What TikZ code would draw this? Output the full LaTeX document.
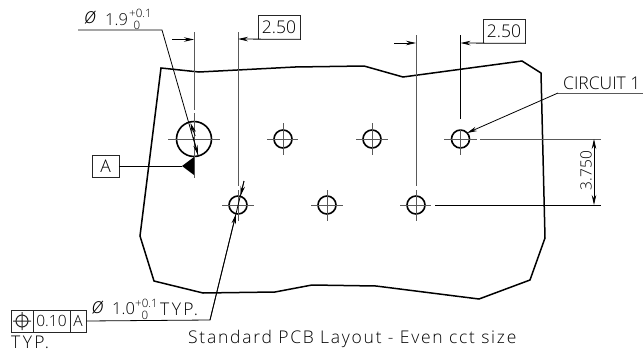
\documentclass[tikz,border=0pt]{standalone}
\usepackage{fontspec}
\setmainfont{Open Sans Light}
\newfontfamily\spaced[LetterSpace=10]{Open Sans Light}
\newfontfamily\spacedb[LetterSpace=14]{Open Sans Light}
\usetikzlibrary{arrows.meta}
\newcommand{\txtsize}[1]{\fontsize{#1}{#1}\selectfont}
\begin{document}
\begin{tikzpicture}[x=1pt,y=-1pt,
  thin line/.style={line width=0.8pt,draw=black},
  ext line/.style={line width=1pt,draw=black!65},
  board/.style={line width=1.5pt,draw=black,line join=miter},
  hole/.style={circle,draw=black,line width=1.6pt,inner sep=0pt,minimum size=18pt},
  bighole/.style={hole,minimum size=35pt},
  lab/.style={inner sep=0pt,text=black,font=\txtsize{17.5}},
  small/.style={inner sep=0pt,text=black,font=\txtsize{11.5}},
  boxed/.style={draw=black!85,line width=0.8pt,inner sep=0pt,font=\txtsize{17.5},text=black},
  tip/.style={-{Stealth[length=10pt,width=4.5pt]},thin line}]
\useasboundingbox (0,0) rectangle (643,354);
% board
\draw[board] (161,68)--(199,72)--(295,67)--(364,66)--(403,77)--(522,61)--(541,73)--(545,238)--(530,280)--(479,299)--(376,286)--(312,285)--(275,292)--(203,293)--(154,281)--(140,236)--cycle;
% holes
\node[bighole] (h0) at (194,139) {};
\node[hole] (h1) at (283,139) {};
\node[hole] (h2) at (372,139) {};
\node[hole] (h3) at (460.5,139) {};
\node[hole] (h4) at (238,205) {};
\node[hole] (h5) at (327,205) {};
\node[hole] (h6) at (416,205) {};
% centre lines
\draw[ext line] (168,139)--(220,139) (194,113)--(194,178);
\draw[ext line] (267,139)--(298,139) (283,123)--(283,155);
\draw[ext line] (356,139)--(388,139) (372,123)--(372,155);
\draw[ext line] (444,139)--(477,139) (460.5,129)--(460.5,155);
\draw[ext line] (222,205)--(254,205) (238,190)--(238,221);
\draw[ext line] (311,205)--(343,205) (327,190)--(327,221);
\draw[ext line] (400,205)--(431,205) (416,190)--(416,221);
% extension lines
\draw[ext line] (194,32)--(194,110);
\draw[ext line] (238,32)--(238,186);
\draw[ext line] (416,35)--(416,186);
\draw[thin line] (460.5,35)--(460.5,119);
\draw[ext line] (480,139)--(601,139);
\draw[thin line] (435,205)--(601,205);
% 2.50 left
\node[boxed,minimum width=42pt,minimum height=24pt] (d1) at (279,27) {2.50};
\draw[tip] (172,39.5)--(194,39.5);
\draw[tip] (d1.south east)--(238,39);
\draw[line width=1.2pt,draw=black!70] (d1.south west)--(d1.south east);
% 2.50 right
\node[boxed,minimum width=42pt,minimum height=24pt] (d2) at (504,31) {2.50};
\draw[tip] (394,43)--(416,43);
\draw[tip] (d2.south east)--(460.5,43);
\draw[line width=1.2pt,draw=black!70] (d2.south west)--(d2.south east);
% 3.750
\coordinate (dimA) at (594,172);
\draw[tip] (dimA)--(594,139);
\draw[tip] (dimA)--(594,205);
\node[lab,rotate=90,font=\txtsize{15.5}] (d3) at (586,170.5) {3.750};
% leader for big hole
\coordinate (la) at (78,30);
\coordinate (lb) at (162,30);
\draw[thin line] (la)--(lb)--(198,155);
\draw[tip] (195.2,136)--(190.5,123);
\draw[tip] (193.2,137)--(198,155);
\node[lab,font=\txtsize{22}] (p1) at (90.5,18) {\itshape ø};
\node[lab,anchor=west,font=\txtsize{16.5}] (t1) at (105,20) {1.9};
\node[small,anchor=west] (t1a) at (129,13) {+0.1};
\node[small] (t1b) at (137,25) {0};
% datum A
\node[boxed,minimum width=27pt,minimum height=22pt] (A) at (105.5,166) {A};
\coordinate (dapex) at (182,166);
\draw[thin line] (A.east)--(dapex);
\fill[black] (194,157)--(194,175)--(dapex)--cycle;
% CIRCUIT 1
\node[lab,anchor=west] (c1) at (563,83.5) {CIRCUIT 1};
\coordinate (cr) at (643,93);
\coordinate (cm) at (558,93);
\draw[ext line] (cr)--(cm);
\draw[tip] (cm)--(467,133);
% feature control frame
\node[boxed,minimum width=22pt,minimum height=22pt] (f1) at (22,321) {};
\node[boxed,minimum width=37pt,minimum height=22pt,font=\txtsize{15.5}] (f2) at (51.5,321) {0.10};
\node[boxed,minimum width=16pt,minimum height=22pt,font=\txtsize{15.5}] (f3) at (78,321) {A};
\draw[line width=1pt,draw=black!85] (22,321) circle (6pt) (13,321)--(31,321) (22,312)--(22,330);
\node[lab,anchor=west,font=\txtsize{17.5}\spacedb] (typ1) at (11,342.5) {TYP.};
% small hole leader
\coordinate (lc) at (210,320);
\coordinate (ld) at (244,181);
\draw[thin line] (f3.east)--(lc)--(ld);
\draw[tip] (lc)--(236,214);
\draw[tip] (ld)--(240.5,196);
\node[lab,font=\txtsize{22}] (p2) at (98,308) {\itshape ø};
\node[lab,anchor=west,font=\txtsize{16.5}] (t2) at (112,309) {1.0};
\node[small,anchor=west] (t2a) at (135,303) {+0.1};
\node[small] (t2b) at (145,315) {0};
\node[lab,anchor=west,font=\txtsize{17.5}\spacedb] (t2c) at (160,309) {TYP.};
% caption
\node[lab,anchor=west,font=\txtsize{17.5}\spaced] (cap) at (188,339) {Standard PCB Layout - Even cct size};
\end{tikzpicture}
\end{document}
